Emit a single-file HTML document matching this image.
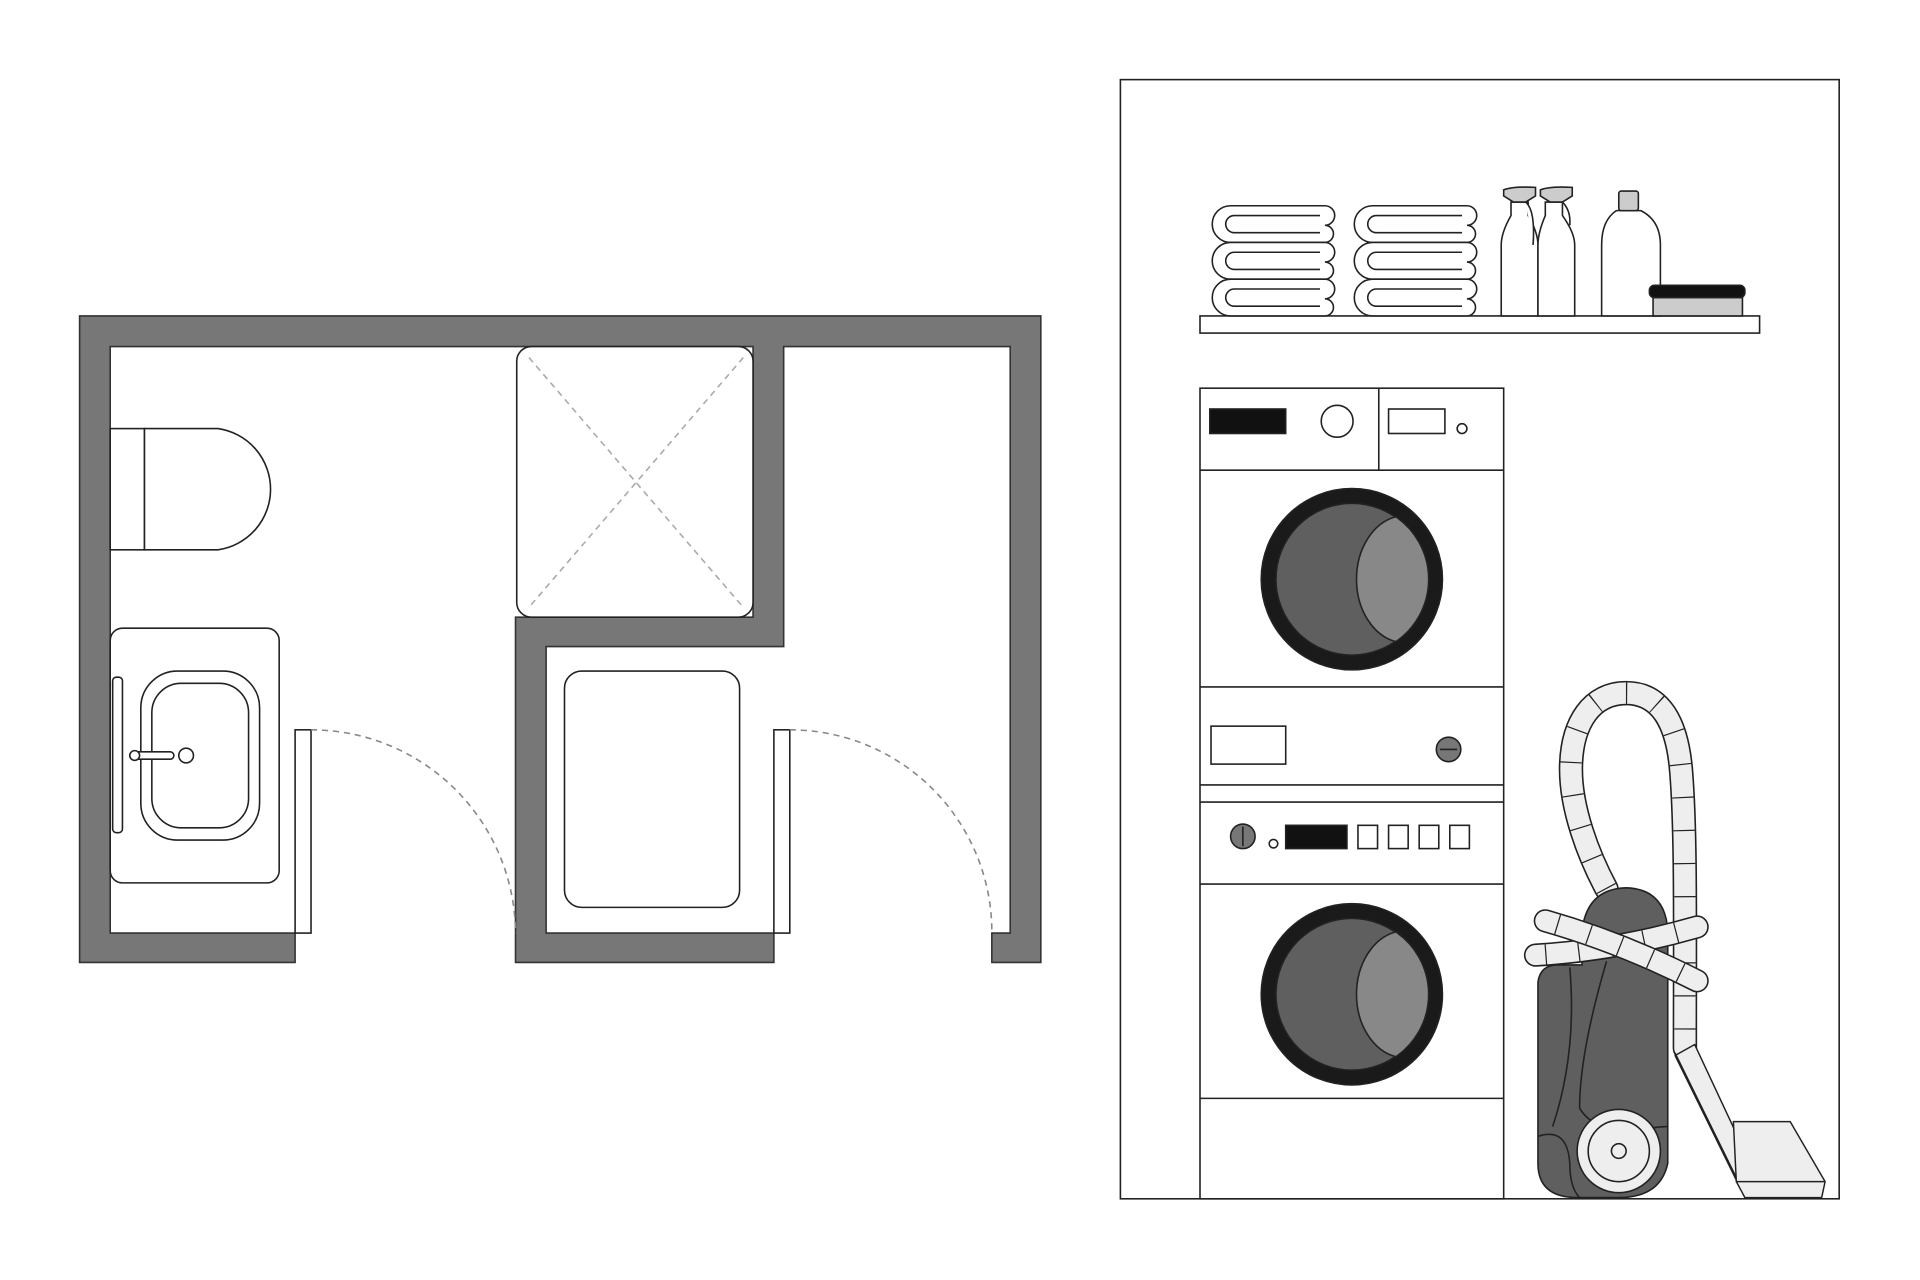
<!DOCTYPE html>
<html><head><meta charset="utf-8"><style>html,body{margin:0;padding:0;background:#fff}svg{display:block}</style></head>
<body>
<svg width="1920" height="1280" viewBox="0 0 1568 1045.3" xmlns="http://www.w3.org/2000/svg" fill="none" stroke="#222" stroke-width="1.3">
<defs>
<g id="fold">
<path d="M15 0 H92 A8 8 0 0 1 92 16 A7 7 0 0 1 92 30 H15 A15 15 0 0 1 15 0 Z" fill="#fff"/>
<path d="M88 8 H18 A7 7 0 0 0 18 22 H88"/>
</g>
</defs>
<rect width="1568" height="1046" fill="#fff" stroke="none"/>
<g fill="#777" stroke="#333">
<path d="M65 258 H850 V786 H810 V762 H825 V283 H640 V528 H446 V762 H632 V786 H421 V504 H615 V283 H90 V762 H241 V786 H65 Z"/>
</g>
<rect x="241" y="596" width="13" height="166" fill="#fff"/>
<path d="M254 596 A167 167 0 0 1 421 762" stroke="#888" stroke-dasharray="5 4"/>
<rect x="632" y="596" width="13" height="166" fill="#fff"/>
<path d="M645 596 A165 165 0 0 1 810 762" stroke="#888" stroke-dasharray="5 4"/>
<rect x="90" y="350" width="28" height="99" fill="#fff"/>
<path d="M118 350 H178 A50 50 0 0 1 178 449 H118 Z" fill="#fff"/>
<rect x="90" y="513" width="138" height="208" rx="10" fill="#fff"/>
<rect x="92" y="553" width="8" height="127" rx="3"/>
<rect x="115" y="548" width="97" height="138" rx="30"/>
<rect x="124" y="558" width="79" height="118" rx="24"/>
<circle cx="152" cy="617" r="6"/>
<rect x="106" y="614" width="36" height="6" rx="3" fill="#fff"/>
<circle cx="110" cy="617" r="4" fill="#fff"/>
<rect x="422" y="283" width="193" height="221" rx="12" fill="#fff"/>
<path d="M432 292 L607 496 M607 292 L432 496" stroke="#aaa" stroke-dasharray="5 4"/>
<rect x="461" y="548" width="143" height="193" rx="14" fill="#fff"/>
<rect x="915" y="65" width="587" height="914"/>
<rect x="980" y="258" width="457" height="14" fill="#fff"/>
<use href="#fold" x="990" y="168"/><use href="#fold" x="990" y="198"/><use href="#fold" x="990" y="228"/>
<use href="#fold" x="1106" y="168"/><use href="#fold" x="1106" y="198"/><use href="#fold" x="1106" y="228"/>
<g fill="#fff">
<path d="M1226 258 V200 Q1226 190 1234 176 V165 H1248 V176 Q1256 190 1256 200 V258 Z"/>
<path d="M1256 258 V200 Q1256 190 1262 176 V165 H1276 V176 Q1286 190 1286 200 V258 Z"/>
<path d="M1228 155 Q1236 152 1254 153 V160 L1246 165 H1236 L1228 160 Z" fill="#ccc"/>
<path d="M1258 155 Q1266 152 1284 153 V160 L1276 165 H1266 L1258 160 Z" fill="#ccc"/>
<path d="M1246 165 Q1254 172 1252 200 M1276 165 Q1283 172 1282 184" />
<path d="M1308 258 V200 Q1308 180 1320 172 H1340 Q1356 180 1356 200 V258 Z"/>
<rect x="1322" y="156" width="16" height="16" rx="2" fill="#ccc"/>
<path d="M1350 243 H1423 V258 H1350 Z" fill="#ccc"/>
<rect x="1347" y="233" width="78" height="10" rx="4" fill="#111"/>
</g>
<g fill="#fff">
<rect x="980" y="317" width="248" height="662"/>
<path d="M980 384 H1228 M1126 317 V384 M980 561 H1228 M980 641 H1228 M980 655 H1228 M980 722 H1228 M980 897 H1228"/>
<rect x="988" y="334" width="62" height="20" fill="#111"/>
<circle cx="1092" cy="344" r="13"/>
<rect x="1134" y="334" width="46" height="20"/>
<circle cx="1194" cy="350" r="4"/>
<rect x="989" y="593" width="61" height="31"/>
<circle cx="1183" cy="612" r="10" fill="#777"/>
<path d="M1176 612 H1190"/>
<circle cx="1015" cy="683" r="10" fill="#777"/>
<path d="M1015 675 V691"/>
<circle cx="1040" cy="689" r="3.5"/>
<rect x="1050" y="674" width="50" height="19" fill="#111"/>
<rect x="1109" y="674" width="16" height="19"/><rect x="1134" y="674" width="16" height="19"/><rect x="1159" y="674" width="16" height="19"/><rect x="1184" y="674" width="16" height="19"/>
</g>
<g id="drum">
<circle cx="1104" cy="473" r="74" fill="#1a1a1a"/>
<circle cx="1104" cy="473" r="62" fill="#5f5f5f"/>
<path d="M1140 422 A62 62 0 0 1 1140 524 A40 52 0 0 1 1140 422 Z" fill="#888"/>
</g>
<use href="#drum" y="339"/>
<g stroke-linecap="round" stroke-linejoin="round">
<path id="hose" d="M1312 726 C1298 700 1282 660 1283 625 C1284 590 1300 566 1328 566 C1356 566 1370 590 1373 631 C1377 680 1376 760 1376 856"/>
<use href="#hose" stroke="#222" stroke-width="20"/>
<use href="#hose" stroke="#eee" stroke-width="17.4"/>
<use href="#hose" stroke="#222" stroke-width="17.4" stroke-dasharray="1 26" stroke-linecap="butt"/>
<path d="M1368 862 L1384 853 L1420 930 L1425 978 Z" fill="#eee" stroke-width="1.2"/>
<path d="M1368 860 L1426 978" stroke-width="1.2"/>
<path d="M1415.6 916 H1462 L1490.5 965 L1487.7 978 H1425 L1418 965 Z" fill="#eee" stroke-width="1.2"/>
<path d="M1418 965 H1490" stroke-width="1.2"/>
</g>
<path d="M1292 760 Q1296 726 1328 725 Q1360 726 1362 760 V950 Q1356 978 1322 978 H1288 Q1256 978 1256 950 V802 Q1258 788 1272 788 H1292 Z" fill="#5f5f5f"/>
<path d="M1282 790 Q1288 860 1268 920 M1312 785 Q1290 860 1290 905 Q1300 922 1330 925 M1256 928 Q1280 920 1282 950 Q1282 970 1290 978 M1330 925 Q1350 920 1362 920"/>
<circle cx="1322" cy="940" r="34" fill="#eee"/>
<circle cx="1322" cy="940" r="25" fill="#eee"/>
<circle cx="1322" cy="940" r="6" fill="#eee"/>
<g stroke-linecap="round">
<path id="b2" d="M1254 780 Q1320 776 1386 757"/>
<use href="#b2" stroke="#222" stroke-width="19"/>
<use href="#b2" stroke="#eee" stroke-width="16.4"/>
<use href="#b2" stroke="#222" stroke-width="16.4" stroke-dasharray="1 26" stroke-dashoffset="-8" stroke-linecap="butt"/>
<path id="b1" d="M1262 752 Q1325 770 1386 801"/>
<use href="#b1" stroke="#222" stroke-width="19"/>
<use href="#b1" stroke="#eee" stroke-width="16.4"/>
<use href="#b1" stroke="#222" stroke-width="16.4" stroke-dasharray="1 26" stroke-dashoffset="-10" stroke-linecap="butt"/>
</g>
</svg>
</body></html>
